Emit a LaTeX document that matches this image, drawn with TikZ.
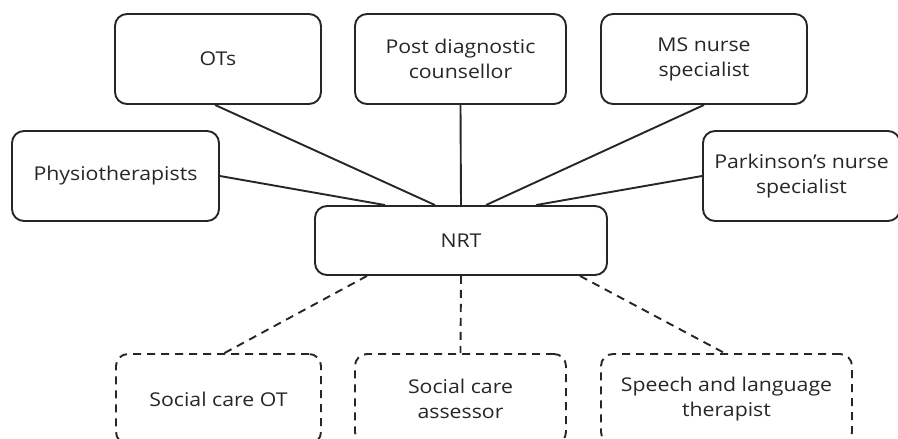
\documentclass[tikz,border=0pt]{standalone}
\usepackage{fontspec}
\setmainfont{Open Sans}[FakeStretch=1.12]
\begin{document}
\begin{tikzpicture}[x=1pt,y=-1pt,
  box/.style={draw=black!85, line width=1.9pt, rounded corners=12pt, align=center,
    inner sep=0pt, font=\fontsize{19}{25}\selectfont, text=black!85},
  dbox/.style={box, dash pattern=on 8pt off 6pt},
  link/.style={draw=black!85, line width=1.9pt},
  dlink/.style={link, dash pattern=on 8pt off 6pt}]
\clip (0,0) rectangle (898,439);
\useasboundingbox (0,0) rectangle (898,439);
\node[box, minimum width=206pt, minimum height=90pt] (ots) at (218,59) {OTs};
\node[box, minimum width=211pt, minimum height=90pt] (pdc) at (460.5,59) {Post diagnostic\\counsellor};
\node[box, minimum width=206pt, minimum height=90pt] (ms) at (704,59) {MS nurse\\specialist};
\node[box, minimum width=207pt, minimum height=90pt] (phys) at (115.5,176) {Physiotherapists};
\node[box, minimum width=197pt, minimum height=90pt] (park) at (801.5,176) {Parkinson’s nurse\\specialist};
\node[box, minimum width=292pt, minimum height=69pt] (nrt) at (461,240.5) {NRT};
\node[dbox, minimum width=205pt, minimum height=90pt] (scot) at (218.5,399) {Social care OT};
\node[dbox, minimum width=211pt, minimum height=90pt] (sca) at (460.5,399) {Social care\\assessor};
\node[dbox, minimum width=251pt, minimum height=90pt] (slt) at (726.5,399) {Speech and language\\therapist};
\draw[link] (phys.east) -- ([xshift=-76pt]nrt.north);
\draw[link] ([xshift=-3pt]ots.south) -- ([xshift=-26pt]nrt.north);
\draw[link] (pdc.south) -- (nrt.north);
\draw[link] (ms.south) -- ([xshift=25pt]nrt.north);
\draw[link] (park.west) -- ([xshift=75pt]nrt.north);
\draw[dlink] ([xshift=-94pt]nrt.south) -- ([xshift=6pt]scot.north);
\draw[dlink] (nrt.south) -- (sca.north);
\draw[dlink] ([xshift=119pt]nrt.south) -- ([xshift=-2pt]slt.north);
\end{tikzpicture}
\end{document}
